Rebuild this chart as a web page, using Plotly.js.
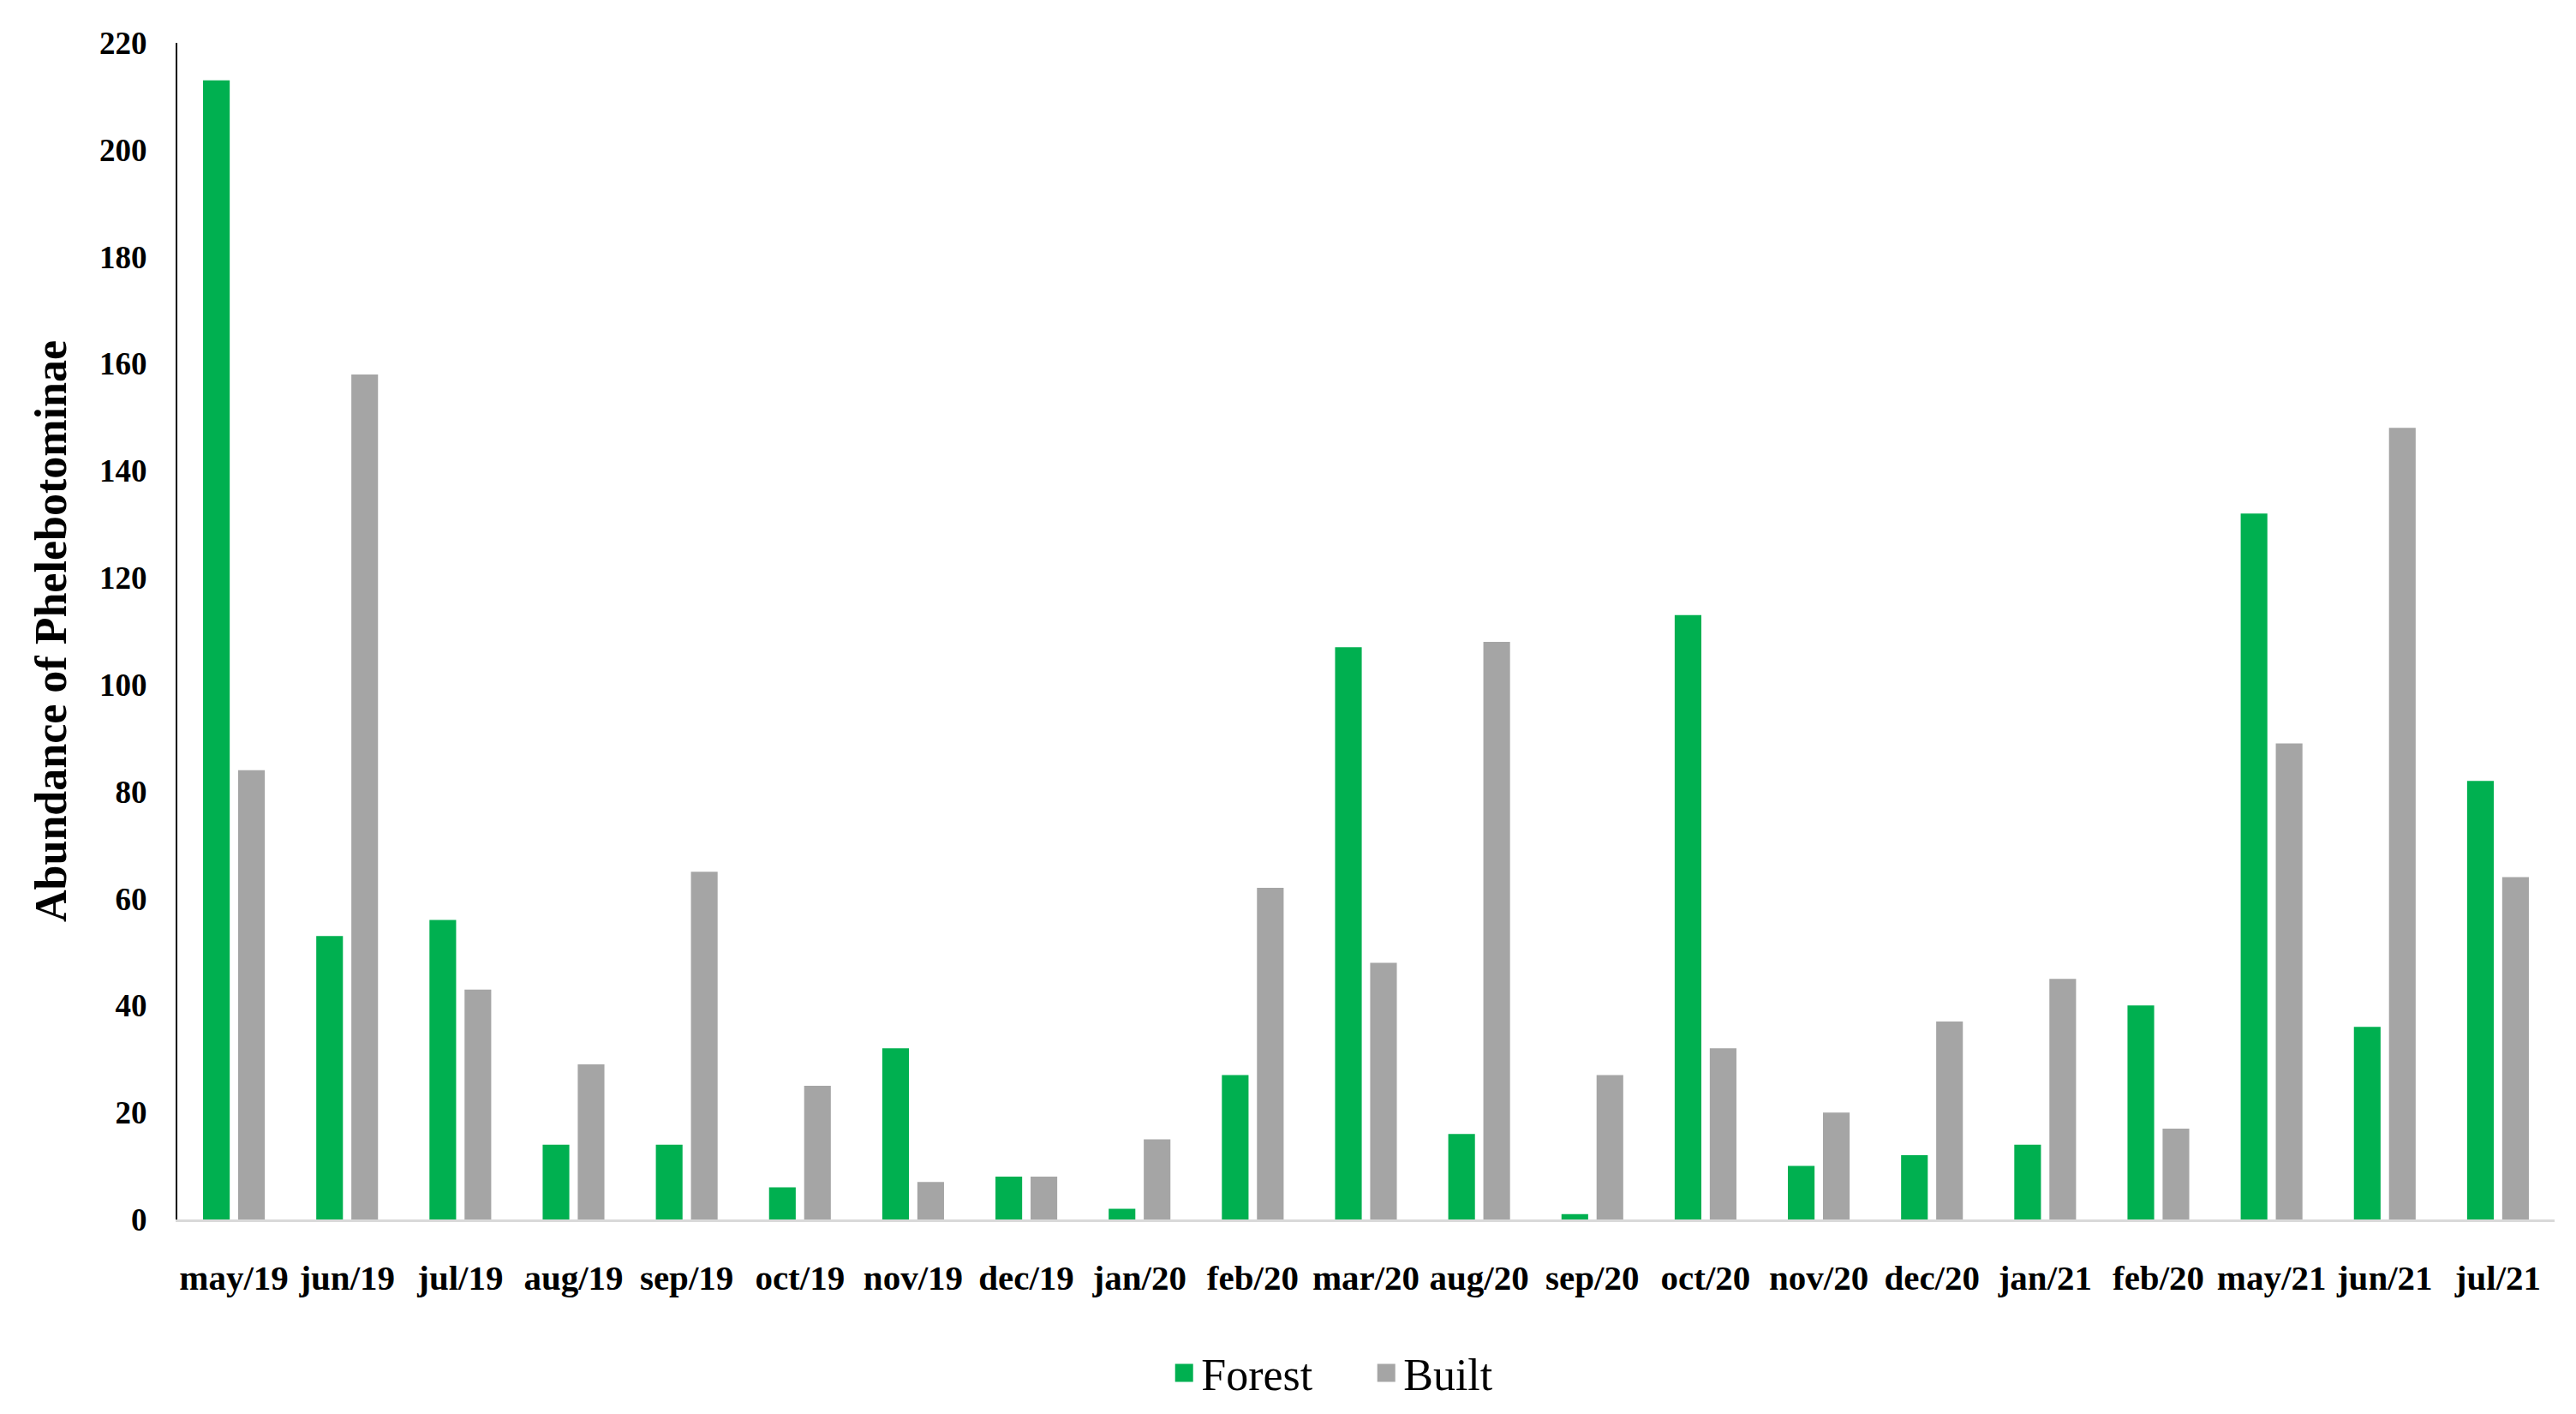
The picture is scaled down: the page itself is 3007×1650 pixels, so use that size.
<!DOCTYPE html>
<html>
<head>
<meta charset="utf-8">
<script src="https://cdn.plot.ly/plotly-3.0.1.min.js"></script>
<style>html,body{margin:0;padding:0;background:#fff;}#chart{width:3007px;height:1650px;}</style>
</head>
<body>
<div id="chart"></div>
<script>
const categories = ["may/19","jun/19","jul/19","aug/19","sep/19","oct/19","nov/19","dec/19","jan/20","feb/20","mar/20","aug/20","sep/20","oct/20","nov/20","dec/20","jan/21","feb/20","may/21","jun/21","jul/21"];
const forest = [213,53,56,14,14,6,32,8,2,27,107,16,1,113,10,12,14,40,132,36,82];
const built = [84,158,43,29,65,25,7,8,15,62,48,108,27,32,20,37,45,17,89,148,64];
const yTicks = [0,20,40,60,80,100,120,140,160,180,200,220];
const seriesNames = ["Forest","Built"];
const seriesColors = ["#00b050","#a5a5a5"];

const idx = categories.map((c, i) => i);
const serif = "Liberation Serif, Times New Roman, serif";

const traces = [
  {type: "bar", name: seriesNames[0], x: idx, y: forest, marker: {color: seriesColors[0], line: {width: 0}}, showlegend: false, legendgroup: "f"},
  {type: "bar", name: seriesNames[1], x: idx, y: built, marker: {color: seriesColors[1], line: {width: 0}}, showlegend: false, legendgroup: "b"},
  {type: "scatter", mode: "markers", name: seriesNames[0], x: [null], y: [null], marker: {symbol: "square", size: 16, color: seriesColors[0], line: {width: 5, color: seriesColors[0]}}, legendgroup: "f"},
  {type: "scatter", mode: "markers", name: seriesNames[1], x: [null], y: [null], marker: {symbol: "square", size: 16, color: seriesColors[1], line: {width: 5, color: seriesColors[1]}}, legendgroup: "b"}
];

const layout = {
  width: 3007, height: 1650,
  margin: {l: 207, r: 25, t: 50, b: 227},
  paper_bgcolor: "#fff", plot_bgcolor: "#fff",
  barmode: "group", bargap: 0.38, bargroupgap: 0.24,
  showlegend: true,
  legend: {orientation: "h", xref: "container", yref: "container", x: 0.5315, xanchor: "center", y: 0.029, yanchor: "middle",
           font: {family: serif, size: 52, color: "#000"}, itemwidth: 30, entrywidth: 191, traceorder: "normal"},
  xaxis: {
    range: [-0.5, 20.5], tickmode: "array", tickvals: idx, ticktext: categories,
    showline: true, linecolor: "#d9d9d9", linewidth: 3, showgrid: false, zeroline: false,
    ticks: "", ticklabelstandoff: 30,
    tickfont: {family: serif, size: 41, color: "#000", weight: "bold"}, fixedrange: true
  },
  yaxis: {
    range: [0, 220], tickmode: "array", tickvals: yTicks,
    showline: true, linecolor: "#000", linewidth: 2, showgrid: false, zeroline: false,
    ticks: "", ticklabelstandoff: 26,
    tickfont: {family: serif, size: 37, color: "#000", weight: "bold"},
    title: {text: "Abundance of Phelebotominae", font: {family: serif, size: 52, color: "#000", weight: "bold"}, standoff: 22},
    automargin: false, fixedrange: true
  }
};

Plotly.newPlot("chart", traces, layout, {displayModeBar: false, staticPlot: true});
</script>
</body>
</html>
